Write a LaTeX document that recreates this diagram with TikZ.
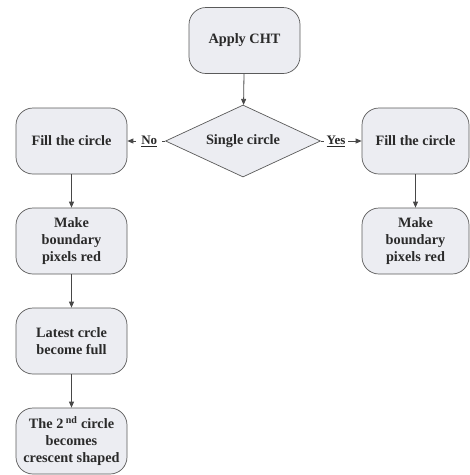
\documentclass[tikz,border=0pt]{standalone}
\usepackage{fontspec}
\setmainfont{Liberation Serif}
\usetikzlibrary{shapes.geometric,arrows.meta}
\definecolor{boxfill}{HTML}{ECEDF2}
\definecolor{boxline}{HTML}{5A5A5A}
\definecolor{txt}{HTML}{2A2A2A}
\begin{document}
\begin{tikzpicture}[x=1pt,y=-1pt,
  every node/.style={font=\bfseries\fontsize{14.3}{17}\selectfont, text=txt},
  stepbox/.style={draw=boxline, fill=boxfill, rounded corners=17pt, line width=0.7pt,
    minimum width=111pt, minimum height=66pt, align=center, inner sep=1pt},
  decide/.style={draw=boxline, fill=boxfill, diamond, line width=0.7pt,
    minimum width=155pt, minimum height=72pt, inner sep=0pt, aspect=2.15},
  conn/.style={draw=boxline!80!black, line width=0.8pt, -{Triangle[length=6pt,width=5pt]}},
  lbl/.style={fill=white, inner ysep=1.5pt, font=\bfseries\fontsize{13}{15}\selectfont}
]
\useasboundingbox (0,0) rectangle (470,475);
\node[stepbox] (cht) at (244.5,40.5) {Apply CHT};
\node[decide] (dia) at (243,141) {Single circle};
\node[stepbox] (fl) at (71.5,141) {Fill the circle};
\node[stepbox, minimum width=107pt] (fr) at (415.5,141) {Fill the circle};
\node[stepbox] (ml) at (71.5,241) {Make\\boundary\\pixels red};
\node[stepbox, minimum width=107pt] (mr) at (415.5,241) {Make\\boundary\\pixels red};
\node[stepbox] (lc) at (71.5,341) {Latest crcle\\become full};
\node[stepbox] (nd) at (71.5,441) {The 2\,\textsuperscript{nd} circle\\becomes\\crescent shaped};
\draw[conn] (cht) -- (dia);
\draw[conn] (dia.west) -- node[lbl, inner xsep=5pt, pos=0.42] {\underline{No}} (fl.east);
\draw[conn] (dia.east) -- node[lbl, inner xsep=3pt, pos=0.37] {\underline{Yes}} (fr.west);
\draw[conn] (fl) -- (ml);
\draw[conn] (fr) -- (mr);
\draw[conn] (ml) -- (lc);
\draw[conn] (lc) -- (nd);
\end{tikzpicture}
\end{document}
